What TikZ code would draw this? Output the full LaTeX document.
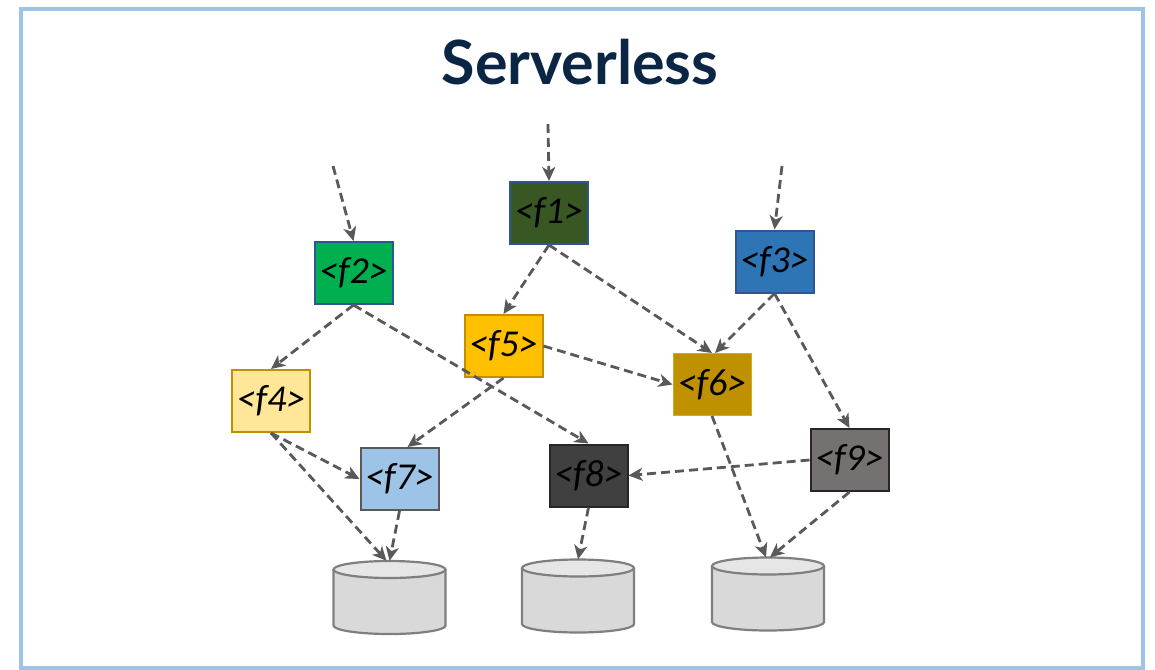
\documentclass[tikz,border=0pt]{standalone}
\usepackage{fontspec}
\setmainfont{Carlito}
\newfontfamily\titlefont{Lato}
\usetikzlibrary{arrows.meta}
\definecolor{framecol}{HTML}{9DC3E6}
\definecolor{titlecol}{HTML}{0B2545}
\definecolor{edgecol}{HTML}{595959}
\definecolor{bluebd}{HTML}{2F5597}
\definecolor{goldbd}{HTML}{BF9000}
\definecolor{cylbd}{HTML}{7F7F7F}
\definecolor{cfa}{HTML}{385723}
\definecolor{cfb}{HTML}{00B050}
\definecolor{cfc}{HTML}{2E75B6}
\definecolor{cfd}{HTML}{FFE699}
\definecolor{cfe}{HTML}{FFC000}
\definecolor{cff}{HTML}{BF9000}
\definecolor{cffbd}{HTML}{D6AA28}
\definecolor{cfg}{HTML}{9DC3E6}
\definecolor{cfh}{HTML}{404040}
\definecolor{cfi}{HTML}{767171}
\definecolor{darkbd}{HTML}{262626}
\definecolor{cylbody}{HTML}{D9D9D9}
\definecolor{cyltop}{HTML}{E7E6E6}
\tikzset{
  fbox/.style={rectangle, minimum width=78pt, minimum height=62pt, inner sep=0pt,
    line width=2pt, text=black, font=\fontsize{38}{38}\selectfont\itshape},
  flow/.style={draw=edgecol, line width=2.8pt, dash pattern=on 9pt off 5pt,
    -{Stealth[length=14pt,width=13pt,inset=4pt]}},
  storenode/.style={rectangle, minimum width=112pt, minimum height=73pt, inner sep=0pt},
  cylline/.style={draw=cylbd, line width=2.2pt}
}
\newcommand\dbcylinder[3]{%
  \node[storenode] (#1) at (#2,#3) {};
  \begin{scope}[shift={(#2,#3)}]
    \fill[cylbody] (-56,-28) -- (-56,28)
      arc[start angle=180, end angle=0, x radius=56, y radius=8.5] -- (56,-28)
      arc[start angle=0, end angle=-180, x radius=56, y radius=8.5] -- cycle;
    \draw[cylline] (-56,-28) -- (-56,28)
      arc[start angle=180, end angle=0, x radius=56, y radius=8.5] -- (56,-28);
    \draw[cylline, fill=cyltop] (0,-28) ellipse [x radius=56, y radius=8.5];
  \end{scope}}
\begin{document}
\begin{tikzpicture}[x=1pt,y=-1pt]
\useasboundingbox (0,0) rectangle (1155,669);
\fill[white] (0,0) rectangle (1155,669);
\draw[framecol, line width=4pt] (21,9) rectangle (1143,668);
\node[text=titlecol, font=\titlefont\bfseries\fontsize{61}{61}\selectfont] (title) at (580,62) {Serverless};

\node[fbox, fill=cfa, draw=bluebd] (f1) at (549,213) {<f1>};
\node[fbox, fill=cfb, draw=bluebd] (f2) at (353.5,273) {<f2>};
\node[fbox, fill=cfc, draw=bluebd] (f3) at (774.5,261.5) {<f3>};
\node[fbox, fill=cfd, draw=goldbd] (f4) at (271,401) {<f4>};
\node[fbox, fill=cfe, draw=goldbd] (f5) at (503.5,346) {<f5>};
\node[fbox, fill=cff, draw=cffbd, line width=1pt] (f6) at (712,384.5) {<f6>};
\node[fbox, fill=cfg, draw=edgecol] (f7) at (399.5,479) {<f7>};
\node[fbox, fill=cfh, draw=darkbd] (f8) at (588.5,475.5) {<f8>};
\node[fbox, fill=cfi, draw=darkbd] (f9) at (849.5,460) {<f9>};

\dbcylinder{c1}{389.5}{597.5}
\dbcylinder{c2}{578}{596}
\dbcylinder{c3}{768}{594}

\coordinate (in1) at (548,124);
\coordinate (in2) at (333,166);
\coordinate (in3) at (782,166);

\draw[flow] (in1) -- (f1.north);
\draw[flow] (in2) -- (f2.north);
\draw[flow] (in3) -- (f3.north);
\draw[flow] (f1.south) -- (f5.north);
\draw[flow] (f1.south) -- (f6.north);
\draw[flow] (f2.south) -- (f4.north);
\draw[flow] (f2.south) -- (f8.north);
\draw[flow] (f3.south) -- ([xshift=3pt]f6.north);
\draw[flow] (f3.south) -- (f9.north);
\draw[flow] (f5.east) -- (f6.west);
\draw[flow] (f5.south) -- ([xshift=8pt]f7.north);
\draw[flow] (f4.south) -- (f7.west);
\draw[flow] (f4.south) -- ([xshift=-3pt]c1.north);
\draw[flow] (f7.south) -- (c1.north);
\draw[flow] (f8.south) -- (c2.north);
\draw[flow] (f9.west) -- (f8.east);
\draw[flow] (f6.south) -- ([xshift=-2pt]c3.north);
\draw[flow] (f9.south) -- ([xshift=2pt]c3.north);
\end{tikzpicture}
\end{document}
